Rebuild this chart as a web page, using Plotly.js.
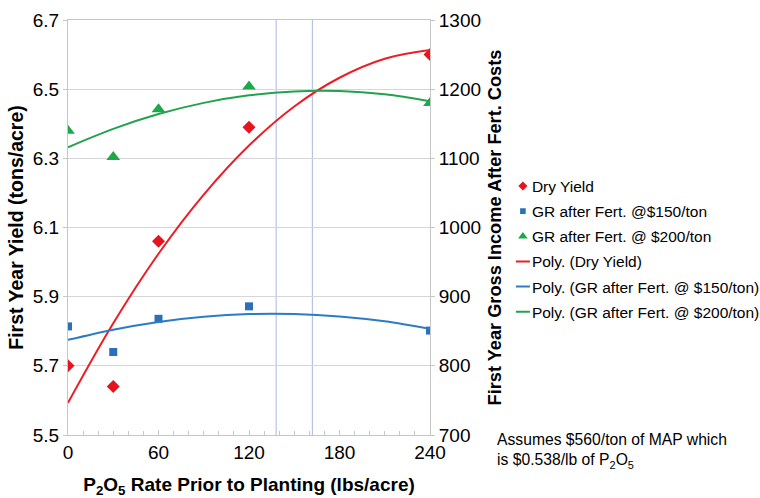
<!DOCTYPE html>
<html>
<head>
<meta charset="utf-8">
<script src="https://cdn.plot.ly/plotly-3.0.1.min.js"></script>
<style>html,body{margin:0;padding:0;background:#fff;}</style>
</head>
<body>
<div id="chart" style="width:760px;height:498px;"></div>
<script>
// ---- data ----
const rates = [0, 30, 60, 120, 240];
const dryYield = [5.70, 5.64, 6.06, 6.39, 6.60];
const gr150 = [857, 820, 868, 886, 851];
const gr200 = [1140, 1102, 1171, 1204, 1180];

const trendRates = [0, 30, 60, 90, 120, 150, 180, 210, 240];
const polyDryYield = [5.593, 5.823, 6.024, 6.195, 6.337, 6.450, 6.533, 6.588, 6.613];
const polyGr150 = [837.5, 852.3, 863.5, 870.9, 874.8, 874.9, 871.4, 864.3, 853.5];
const polyGr200 = [1116.0, 1142.6, 1164.0, 1180.2, 1191.1, 1196.8, 1197.3, 1192.5, 1182.5];

const optimumRates = [138, 162];

const xTicks = [0, 60, 120, 180, 240];
const yTicks = [5.5, 5.7, 5.9, 6.1, 6.3, 6.5, 6.7];
const y2Ticks = [700, 800, 900, 1000, 1100, 1200, 1300];

const names = [
  'Dry Yield',
  'GR after Fert. @$150/ton',
  'GR after Fert. @ $200/ton',
  'Poly. (Dry Yield)',
  'Poly. (GR after Fert. @ $150/ton)',
  'Poly. (GR after Fert. @ $200/ton)'
];
const note = 'Assumes $560/ton of MAP which<br>is $0.538/lb of P<sub>2</sub>O<sub>5</sub>';

// ---- styling ----
const FONT = "'Liberation Sans', Arial, sans-serif";
const RED = '#e8131c', BLUE = '#2a6fb8', GREEN = '#1fa84a';
const LRED = '#ee1c25', LBLUE = '#2b7cc4', LGREEN = '#22a24e';
const AX = '#c6c6c6';

const data = [
  {x: rates, y: dryYield, name: names[0], legendgroup: 'g0', type: 'scatter', mode: 'markers',
   marker: {symbol: 'diamond', size: 10, color: RED}, yaxis: 'y'},
  {x: rates, y: gr150, name: names[1], legendgroup: 'g1', type: 'scatter', mode: 'markers',
   marker: {symbol: 'square', size: 8, color: BLUE}, yaxis: 'y2'},
  {x: rates, y: gr200, name: names[2], legendgroup: 'g2', type: 'scatter', mode: 'markers',
   marker: {symbol: 'triangle-up', size: 12, color: GREEN}, yaxis: 'y2'},
  {x: trendRates, y: polyDryYield, name: names[3], legendgroup: 'g3', type: 'scatter', mode: 'lines',
   line: {color: LRED, width: 2, shape: 'spline'}, yaxis: 'y'},
  {x: trendRates, y: polyGr150, name: names[4], legendgroup: 'g4', type: 'scatter', mode: 'lines',
   line: {color: LBLUE, width: 2, shape: 'spline'}, yaxis: 'y2'},
  {x: trendRates, y: polyGr200, name: names[5], legendgroup: 'g5', type: 'scatter', mode: 'lines',
   line: {color: LGREEN, width: 2, shape: 'spline'}, yaxis: 'y2'}
];

const layout = {
  width: 760, height: 498,
  margin: {l: 68, r: 330, t: 20, b: 63, pad: 0, autoexpand: false},
  paper_bgcolor: '#fff', plot_bgcolor: '#fff',
  font: {family: FONT, size: 16, color: '#000'},
  showlegend: true,
  legend: {x: 1.171, xanchor: 'left', y: 0.64, yanchor: 'top',
           bgcolor: 'rgba(0,0,0,0)', borderwidth: 0, traceorder: 'grouped',
           font: {family: FONT, size: 15.5, color: '#000'}, tracegroupgap: 2},
  xaxis: {range: [0, 240], tickvals: xTicks, showgrid: false, zeroline: false,
          showline: true, linecolor: AX, linewidth: 1, mirror: true,
          ticks: 'inside', ticklen: 5, tickcolor: AX,
          minor: {dtick: 10, ticks: 'inside', ticklen: 4, tickcolor: AX, showgrid: false},
          tickfont: {family: FONT, size: 19},
          title: {text: 'P<sub>2</sub>O<sub>5</sub> Rate Prior to Planting (lbs/acre)',
                  font: {family: FONT, size: 19, weight: 'bold'}, standoff: 18},
          automargin: false},
  yaxis: {range: [5.5, 6.7], tickvals: yTicks, tickformat: '.1f', showgrid: true, gridcolor: '#d6d6d6',
          zeroline: false, showline: true, linecolor: AX, ticks: 'outside', ticklen: 4, tickcolor: AX,
          tickfont: {family: FONT, size: 19},
          title: {text: 'First Year Yield (tons/acre)', font: {family: FONT, size: 19.5, weight: 'bold'}, standoff: 3},
          automargin: false},
  yaxis2: {range: [700, 1300], tickvals: y2Ticks, overlaying: 'y', side: 'right', showgrid: false,
           zeroline: false, showline: true, linecolor: AX, ticks: 'outside', ticklen: 4, tickcolor: AX,
           tickfont: {family: FONT, size: 19},
           title: {text: 'First Year Gross Income After Fert. Costs', font: {family: FONT, size: 18.2, weight: 'bold'}, standoff: 8},
           automargin: false},
  shapes: optimumRates.map(v => ({type: 'line', xref: 'x', yref: 'paper', x0: v, x1: v, y0: 0, y1: 1,
                                  line: {color: '#a9b6e6', width: 1}, layer: 'below'})),
  annotations: [{text: note, xref: 'paper', yref: 'paper', x: 1.18, y: 0.015,
                 xanchor: 'left', yanchor: 'top', align: 'left', showarrow: false,
                 font: {family: FONT, size: 15.7, color: '#000'}}]
};

Plotly.newPlot('chart', data, layout, {staticPlot: true, responsive: false}).then(gd => {
  gd.querySelectorAll('.legend .traces').forEach(tr => {
    tr.querySelectorAll('.legendlines path').forEach(p => p.setAttribute('d', 'M24,0h14'));
    tr.querySelectorAll('.legendpoints path').forEach(p => p.setAttribute('transform', 'translate(31,0) scale(0.7)'));
  });
});
</script>
</body>
</html>
